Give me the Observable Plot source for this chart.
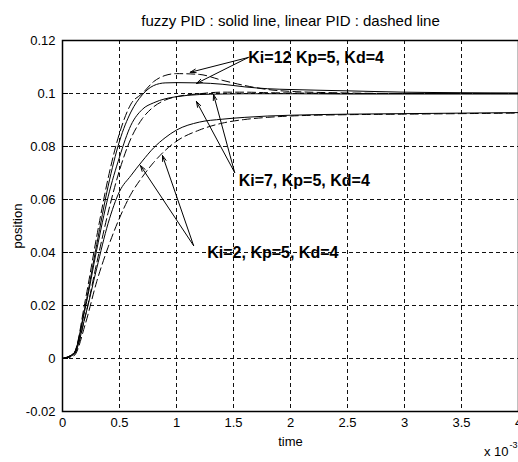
<!DOCTYPE html>
<html><head><meta charset="utf-8">
<script src="https://cdn.jsdelivr.net/npm/d3@7"></script>
<script src="https://cdn.jsdelivr.net/npm/@observablehq/plot@0.6"></script>
<style>
body{margin:0;background:#fff;}
svg{font-family:"Liberation Sans",Arial,sans-serif;}
</style>
</head><body><div id="chart"></div>
<script>
// time in units of 10^-3 s
const time = [0,0.1,0.2,0.3,0.4,0.5,0.6,0.7,0.8,0.9,1.0,1.2,1.4,1.6,1.8,2.0,2.5,3.0,3.5,4.0];
const ki12Linear = [0,0.002,0.022,0.046,0.068,0.085,0.096,0.1,0.1045,0.1068,0.1075,0.1072,0.105,0.103,0.1015,0.1008,0.1002,0.1,0.1,0.1];
const ki12Fuzzy  = [0,0.002,0.02,0.043,0.065,0.082,0.093,0.0995,0.103,0.104,0.1041,0.104,0.1035,0.1025,0.1018,0.1015,0.101,0.1005,0.1003,0.1002];
const ki7Fuzzy   = [0,0.002,0.019,0.041,0.061,0.076,0.088,0.094,0.0965,0.098,0.0988,0.0996,0.0998,0.0999,0.0999,0.0999,0.0998,0.0998,0.0998,0.0998];
const ki7Linear  = [0,0.0015,0.016,0.036,0.055,0.071,0.083,0.0905,0.095,0.0975,0.0988,0.0999,0.1005,0.1005,0.1003,0.1002,0.1,0.1,0.1,0.1];
const ki2Fuzzy   = [0,0.0015,0.016,0.034,0.051,0.063,0.069,0.0745,0.0795,0.0833,0.0862,0.0892,0.0903,0.091,0.0915,0.0918,0.0922,0.0924,0.0926,0.0928];
const ki2Linear  = [0,0.001,0.013,0.029,0.042,0.053,0.062,0.0685,0.074,0.0785,0.082,0.0862,0.0888,0.0902,0.091,0.0915,0.092,0.0922,0.0924,0.0926];

const xTicks = [0,0.5,1,1.5,2,2.5,3,3.5,4];
const yTicks = [-0.02,0,0.02,0.04,0.06,0.08,0.1,0.12];
const xGrid = [0.5,1,1.5,2,2.5,3,3.5];
const yGrid = [0,0.02,0.04,0.06,0.08,0.1];

const labels = ["Ki=12 Kp=5, Kd=4","Ki=7, Kp=5, Kd=4","Ki=2, Kp=5, Kd=4"];
const labelX = [1.63,1.545,1.27];
const labelY = [0.1136,0.0672,0.0400];

const arrowX1 = [1.63,1.63,1.51,1.51,1.15,1.15];
const arrowY1 = [0.1136,0.1136,0.0702,0.0702,0.0426,0.0426];
const arrowX2 = [1.12,1.175,1.175,1.325,0.684,0.877];
const arrowY2 = [0.108,0.1038,0.097,0.0996,0.0728,0.0766];

const series = [
  {name:"ki12Linear", y:ki12Linear, dash:"8,4"},
  {name:"ki12Fuzzy", y:ki12Fuzzy, dash:null},
  {name:"ki7Fuzzy", y:ki7Fuzzy, dash:null},
  {name:"ki7Linear", y:ki7Linear, dash:"8,4"},
  {name:"ki2Fuzzy", y:ki2Fuzzy, dash:null},
  {name:"ki2Linear", y:ki2Linear, dash:"8,4"}
];
const rows = s => time.map((t,i)=>({t, v:s.y[i]}));
const arrows = arrowX1.map((x,i)=>({x1:x,y1:arrowY1[i],x2:arrowX2[i],y2:arrowY2[i]}));
const labelRows = labels.map((l,i)=>({l,x:labelX[i],y:labelY[i]}));
const fmt = d => String(+d.toFixed(3));

const chart = Plot.plot({
  width:518, height:462,
  marginLeft:62, marginRight:0, marginTop:40, marginBottom:51,
  style:{fontSize:"13px", fontFamily:"'Liberation Sans', Arial, sans-serif", color:"#000", background:"#fff"},
  x:{domain:[0,4]},
  y:{domain:[-0.02,0.12]},
  marks:[
    Plot.ruleX(xGrid,{stroke:"#111",strokeDasharray:"4,3",strokeWidth:1}),
    Plot.ruleY(yGrid,{stroke:"#111",strokeDasharray:"4,3",strokeWidth:1}),
    Plot.frame({stroke:"#000",strokeWidth:1.5}),
    Plot.tickY(yTicks,{y:d=>d,stroke:"#000",strokeWidth:1,inset:0,insetRight:450}),
    Plot.axisX({ticks:xTicks,tickFormat:fmt,tickSize:0,tickPadding:6,label:"time",labelAnchor:"center",labelArrow:"none",labelOffset:34,fontSize:13}),
    Plot.axisY({ticks:yTicks,tickFormat:fmt,tickSize:0,tickPadding:7,label:"position",labelAnchor:"center",labelArrow:"none",labelOffset:50,fontSize:13}),
    ...series.map(s=>Plot.line(rows(s),{x:"t",y:"v",stroke:"#000",strokeWidth:1,strokeDasharray:s.dash,curve:"monotone-x"})),
    Plot.arrow(arrows,{x1:"x1",y1:"y1",x2:"x2",y2:"y2",stroke:"#000",strokeWidth:1,headLength:9,headAngle:35}),
    Plot.text(labelRows,{x:"x",y:"y",text:"l",textAnchor:"start",fontWeight:"bold",fontSize:16,fill:"#000"}),
    Plot.text(["fuzzy PID : solid line, linear PID : dashed line"],{frameAnchor:"top",dy:-25,fontSize:15,fill:"#000"}),
    Plot.text(["x 10"],{frameAnchor:"bottom-right",dx:-10,dy:44,textAnchor:"end",fontSize:13,fill:"#000"}),
    Plot.text(["-3"],{frameAnchor:"bottom-right",dx:-1,dy:36,textAnchor:"end",fontSize:9,fill:"#000"})
  ]
});
document.getElementById("chart").appendChild(chart);
</script>
</body></html>
